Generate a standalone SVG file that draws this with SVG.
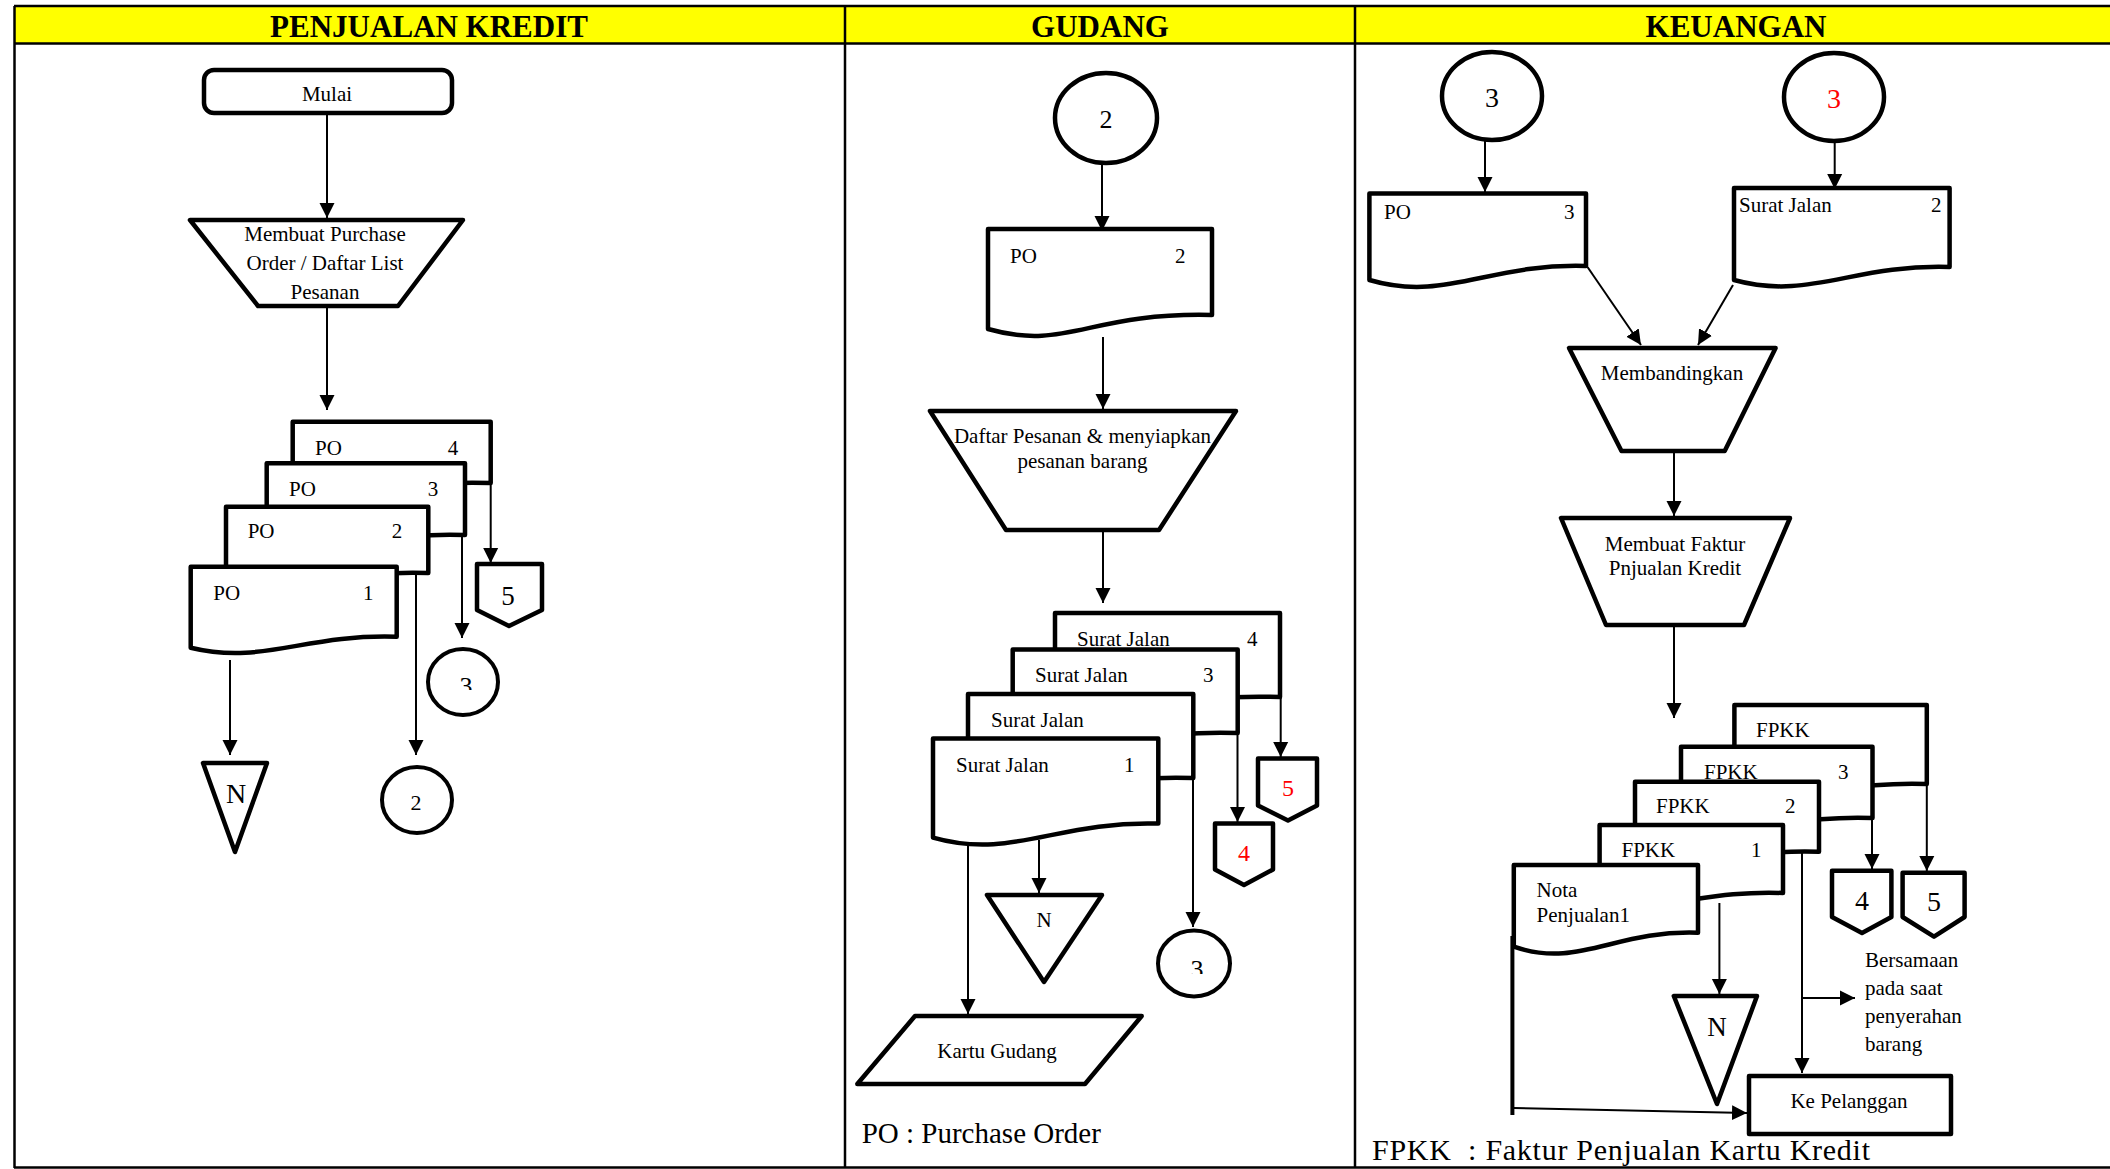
<svg xmlns="http://www.w3.org/2000/svg" width="2110" height="1169" viewBox="0 0 2110 1169">
  <style>
    .t { font-family: "Liberation Serif", "Times New Roman", serif; font-size: 21px; fill: #000; }
    .c { text-anchor: middle; }
    .hdr { font-family: "Liberation Serif", "Times New Roman", serif; font-size: 31px; font-weight: bold; text-anchor: middle; fill: #000; }
    .red { fill: #ff0000; }
    .sh { fill: #fff; stroke: #000; stroke-width: 4.5; stroke-linejoin: round; }
    .cir { fill: #fff; stroke: #000; stroke-width: 4; }
    .ln { fill: none; stroke: #000; stroke-width: 2; }
    .arr { fill: none; stroke: #000; stroke-width: 2; marker-end: url(#ah); }
    .frame { fill: none; stroke: #000; stroke-width: 2.5; }
  </style>
  <defs>
    <marker id="ah" viewBox="0 0 16 16" refX="15" refY="8" markerWidth="16" markerHeight="16" markerUnits="userSpaceOnUse" orient="auto">
      <path d="M0,0.5 L15,8 L0,15.5 z" fill="#000"/>
    </marker>
    <clipPath id="clip3a"><rect x="440" y="660" width="50" height="30"/></clipPath>
    <clipPath id="clip3b"><rect x="1170" y="940" width="50" height="34"/></clipPath>
  </defs>

  <!-- page frame and swimlane headers -->
  <g id="lanes">
    <rect x="14" y="6" width="2100" height="37" fill="#ffff00"/>
    <line class="frame" x1="14" y1="6" x2="2110" y2="6"/>
    <line class="frame" x1="14" y1="43.5" x2="2110" y2="43.5"/>
    <line class="frame" x1="14.5" y1="6" x2="14.5" y2="1168"/>
    <line class="frame" x1="14" y1="1167.5" x2="2110" y2="1167.5"/>
    <line class="frame" x1="845" y1="6" x2="845" y2="1168"/>
    <line class="frame" x1="1355" y1="6" x2="1355" y2="1168"/>
    <text class="hdr" x="429" y="37">PENJUALAN KREDIT</text>
    <text class="hdr" x="1100" y="37">GUDANG</text>
    <text class="hdr" x="1736" y="37">KEUANGAN</text>
  </g>

  <!-- connectors -->
  <g id="connectors">
    <!-- Penjualan Kredit -->
    <line class="arr" x1="327" y1="114" x2="327" y2="218"/>
    <line class="arr" x1="327" y1="307" x2="327" y2="410"/>
    <line class="arr" x1="230" y1="660" x2="230" y2="755"/>
    <line class="arr" x1="416" y1="575" x2="416" y2="755"/>
    <line class="arr" x1="462" y1="536" x2="462" y2="638"/>
    <line class="arr" x1="490.7" y1="484" x2="490.7" y2="563"/>
    <!-- Gudang -->
    <line class="arr" x1="1102" y1="163" x2="1102" y2="231"/>
    <line class="arr" x1="1103" y1="337" x2="1103" y2="409"/>
    <line class="arr" x1="1103" y1="531" x2="1103" y2="603"/>
    <line class="arr" x1="968" y1="843" x2="968" y2="1014"/>
    <line class="arr" x1="1039" y1="840" x2="1039" y2="893"/>
    <line class="arr" x1="1193" y1="780" x2="1193" y2="927"/>
    <line class="arr" x1="1237.5" y1="735" x2="1237.5" y2="822"/>
    <line class="arr" x1="1280.7" y1="698" x2="1280.7" y2="757"/>
    <!-- Keuangan -->
    <line class="arr" x1="1485" y1="140" x2="1485" y2="192"/>
    <line class="arr" x1="1834.7" y1="141" x2="1834.7" y2="189"/>
    <line class="arr" x1="1587.5" y1="267" x2="1641" y2="345"/>
    <line class="arr" x1="1733" y1="285" x2="1698" y2="345"/>
    <line class="arr" x1="1674" y1="451" x2="1674" y2="516"/>
    <line class="arr" x1="1674" y1="625" x2="1674" y2="718"/>
    <line class="ln" x1="1512.4" y1="936" x2="1512.4" y2="1115" style="stroke-width:4"/>
    <line class="arr" x1="1514" y1="1108" x2="1747" y2="1113"/>
    <line class="arr" x1="1719.4" y1="903" x2="1719.4" y2="994"/>
    <line class="arr" x1="1802" y1="853" x2="1802" y2="1073"/>
    <line class="arr" x1="1802" y1="998" x2="1855" y2="998"/>
    <line class="arr" x1="1872" y1="820" x2="1872" y2="869"/>
    <line class="arr" x1="1926.8" y1="785" x2="1926.8" y2="871"/>
  </g>

  <!-- Penjualan Kredit lane -->
  <g id="mulai">
    <rect class="sh" x="204" y="70" width="248" height="43" rx="10" ry="10"/>
    <text class="t c" x="327" y="101">Mulai</text>
  </g>
  <g id="buat-po">
    <polygon class="sh" points="190,220 463,220 398,306 258,306"/>
    <text class="t c" x="325" y="241">Membuat Purchase</text>
    <text class="t c" x="325" y="270">Order / Daftar List</text>
    <text class="t c" x="325" y="299">Pesanan</text>
  </g>
  <g id="po-rangkap">
    <path class="sh" d="M292.7,421.7 H490.7 V483 C381.8,480 362,503.8 292.7,491 Z"/>
    <text class="t" x="315" y="455">PO</text>
    <text class="t" x="447.7" y="455">4</text>
    <path class="sh" d="M266.7,463.3 H465 V535 C375.8,532 336.1,555.8 266.7,543 Z"/>
    <text class="t" x="289" y="496">PO</text>
    <text class="t" x="427.7" y="496">3</text>
    <path class="sh" d="M226,506.7 H428.3 V573 C337.3,570 296.8,593.8 226,581 Z"/>
    <text class="t" x="247.7" y="538">PO</text>
    <text class="t" x="391.7" y="538">2</text>
    <path class="sh" d="M190.7,566.7 H396.7 V636.7 C304,633.7 262.8,665.3 190.7,647.7 Z"/>
    <text class="t" x="213.3" y="600">PO</text>
    <text class="t" x="363" y="600">1</text>
  </g>
  <g id="arsip-n-1">
    <polygon class="sh" points="203,763 267,763 235,852"/>
    <text class="t c" x="236" y="803" style="font-size:28px">N</text>
  </g>
  <g id="konektor-2a">
    <ellipse class="cir" cx="417" cy="800" rx="35" ry="33"/>
    <text class="t c" x="416" y="810" style="font-size:22px">2</text>
  </g>
  <g id="konektor-3a">
    <ellipse class="cir" cx="463" cy="682" rx="35" ry="33"/>
    <text class="t c" x="466" y="694.5" clip-path="url(#clip3a)" style="font-size:26px">3</text>
  </g>
  <g id="offpage-5a">
    <polygon class="sh" points="477,564 542,564 542,610 509,626 477,610"/>
    <text class="t c" x="508" y="605" style="font-size:27px">5</text>
  </g>

  <!-- Gudang lane -->
  <g id="konektor-2b">
    <ellipse class="cir" cx="1106" cy="118" rx="51" ry="45" style="stroke-width:4.5"/>
    <text class="t c" x="1106" y="128" style="font-size:26px">2</text>
  </g>
  <g id="po-2">
    <path class="sh" d="M988,229 H1212 V315 C1088.8,312 1066.4,351.4 988,329 Z"/>
    <text class="t" x="1010" y="263">PO</text>
    <text class="t" x="1175" y="263">2</text>
  </g>
  <g id="siapkan-barang">
    <polygon class="sh" points="930,411 1236,411 1159,530 1006,530"/>
    <text class="t c" x="1082.5" y="443">Daftar Pesanan &amp; menyiapkan</text>
    <text class="t c" x="1082.5" y="468">pesanan barang</text>
  </g>
  <g id="surat-jalan">
    <path class="sh" d="M1055,613 H1280 V697 C1156.3,694 1133.8,717.8 1055,705 Z"/>
    <text class="t" x="1077" y="646">Surat Jalan</text>
    <text class="t" x="1247" y="646">4</text>
    <path class="sh" d="M1012.7,649.5 H1237.7 V733 C1136.5,730 1091.5,753.8 1012.7,741 Z"/>
    <text class="t" x="1035" y="682">Surat Jalan</text>
    <text class="t" x="1203" y="682">3</text>
    <path class="sh" d="M968,694 H1193.3 V778 C1092,775 1046.9,798.8 968,786 Z"/>
    <text class="t" x="991" y="727">Surat Jalan</text>
    <path class="sh" d="M933,738.6 H1158.3 V823.6 C1057,820.6 1011.9,860 933,837.6 Z"/>
    <text class="t" x="956" y="772">Surat Jalan</text>
    <text class="t" x="1124" y="772">1</text>
  </g>
  <g id="arsip-n-2">
    <polygon class="sh" points="987,895 1102,895 1044,982"/>
    <text class="t c" x="1044" y="927">N</text>
  </g>
  <g id="konektor-3b">
    <ellipse class="cir" cx="1194" cy="963.5" rx="36" ry="33"/>
    <text class="t c" x="1197" y="978" clip-path="url(#clip3b)" style="font-size:26px">3</text>
  </g>
  <g id="offpage-4b">
    <polygon class="sh" points="1215,823.6 1273,823.6 1273,869.5 1244,885 1215,869.5"/>
    <text class="t c red" x="1244" y="861" style="font-size:24px">4</text>
  </g>
  <g id="offpage-5b">
    <polygon class="sh" points="1258,758.6 1317,758.6 1317,805.6 1288,820.6 1258,805.6"/>
    <text class="t c red" x="1288" y="796" style="font-size:24px">5</text>
  </g>
  <g id="kartu-gudang">
    <polygon class="sh" points="915,1016 1141.7,1016 1085,1084 857.3,1084"/>
    <text class="t c" x="997" y="1058">Kartu Gudang</text>
  </g>
  <g id="keterangan-po">
    <text class="t" x="861.7" y="1143" style="font-size:29px">PO : Purchase Order</text>
  </g>

  <!-- Keuangan lane -->
  <g id="konektor-3c">
    <ellipse class="cir" cx="1492" cy="96" rx="50" ry="44" style="stroke-width:4.5"/>
    <text class="t c" x="1492" y="107" style="font-size:28px">3</text>
  </g>
  <g id="konektor-3d">
    <ellipse class="cir" cx="1834" cy="97" rx="50" ry="44" style="stroke-width:4.5"/>
    <text class="t c red" x="1834" y="108" style="font-size:28px">3</text>
  </g>
  <g id="po-3">
    <path class="sh" d="M1369.4,193.4 H1586 V266 C1488.5,263 1445.2,302.4 1369.4,280 Z"/>
    <text class="t" x="1384" y="219">PO</text>
    <text class="t" x="1564" y="219">3</text>
  </g>
  <g id="surat-jalan-2">
    <path class="sh" d="M1734,188 H1949.6 V267 C1852.6,264 1809.5,300.8 1734,280 Z"/>
    <text class="t" x="1739" y="212">Surat Jalan</text>
    <text class="t" x="1931" y="212">2</text>
  </g>
  <g id="membandingkan">
    <polygon class="sh" points="1569,348 1775.6,348 1724.7,451 1621.5,451"/>
    <text class="t c" x="1672" y="380">Membandingkan</text>
  </g>
  <g id="buat-faktur">
    <polygon class="sh" points="1561,518 1790,518 1744,625 1606,625"/>
    <text class="t c" x="1675" y="551">Membuat Faktur</text>
    <text class="t c" x="1675" y="575">Pnjualan Kredit</text>
  </g>
  <g id="fpkk">
    <path class="sh" d="M1734.4,705 H1926.8 V784 C1840.2,781 1801.7,804.8 1734.4,792 Z"/>
    <text class="t" x="1756" y="737">FPKK</text>
    <path class="sh" d="M1681,746.7 H1872.5 V818 C1786.3,815 1748,838.8 1681,826 Z"/>
    <text class="t" x="1704" y="779">FPKK</text>
    <text class="t" x="1838" y="779">3</text>
    <path class="sh" d="M1635,781.7 H1819 V851.7 C1736.2,848.7 1699.4,872.5 1635,859.7 Z"/>
    <text class="t" x="1656" y="813">FPKK</text>
    <text class="t" x="1785" y="813">2</text>
    <path class="sh" d="M1599.6,825 H1783 V893 C1700.5,890 1663.8,913.8 1599.6,901 Z"/>
    <text class="t" x="1621.5" y="857">FPKK</text>
    <text class="t" x="1751" y="857">1</text>
  </g>
  <g id="nota-penjualan">
    <path class="sh" d="M1513.8,865 H1698 V932.7 C1615.1,929.7 1578.3,969.1 1513.8,946.7 Z"/>
    <text class="t" x="1536.6" y="897">Nota</text>
    <text class="t" x="1536.6" y="922">Penjualan1</text>
  </g>
  <g id="arsip-n-3">
    <polygon class="sh" points="1673.8,996 1757,996 1717,1104"/>
    <text class="t c" x="1717" y="1036" style="font-size:27px">N</text>
  </g>
  <g id="offpage-4c">
    <polygon class="sh" points="1832,870.7 1891.4,870.7 1891.4,917 1862,933 1832,917"/>
    <text class="t c" x="1862" y="910" style="font-size:28px">4</text>
  </g>
  <g id="offpage-5c">
    <polygon class="sh" points="1902.6,872.7 1964.6,872.7 1964.6,917 1934,936.7 1902.6,917"/>
    <text class="t c" x="1934" y="911" style="font-size:28px">5</text>
  </g>
  <g id="catatan-serah">
    <text class="t" x="1865" y="967">Bersamaan</text>
    <text class="t" x="1865" y="995">pada saat</text>
    <text class="t" x="1865" y="1023">penyerahan</text>
    <text class="t" x="1865" y="1051">barang</text>
  </g>
  <g id="ke-pelanggan">
    <rect class="sh" x="1749" y="1076" width="202" height="58"/>
    <text class="t c" x="1849" y="1108">Ke Pelanggan</text>
  </g>
  <g id="keterangan-fpkk">
    <text class="t" x="1372" y="1160" style="font-size:30px; white-space:pre" xml:space="preserve" textLength="498" lengthAdjust="spacing">FPKK  : Faktur Penjualan Kartu Kredit</text>
  </g>
</svg>
